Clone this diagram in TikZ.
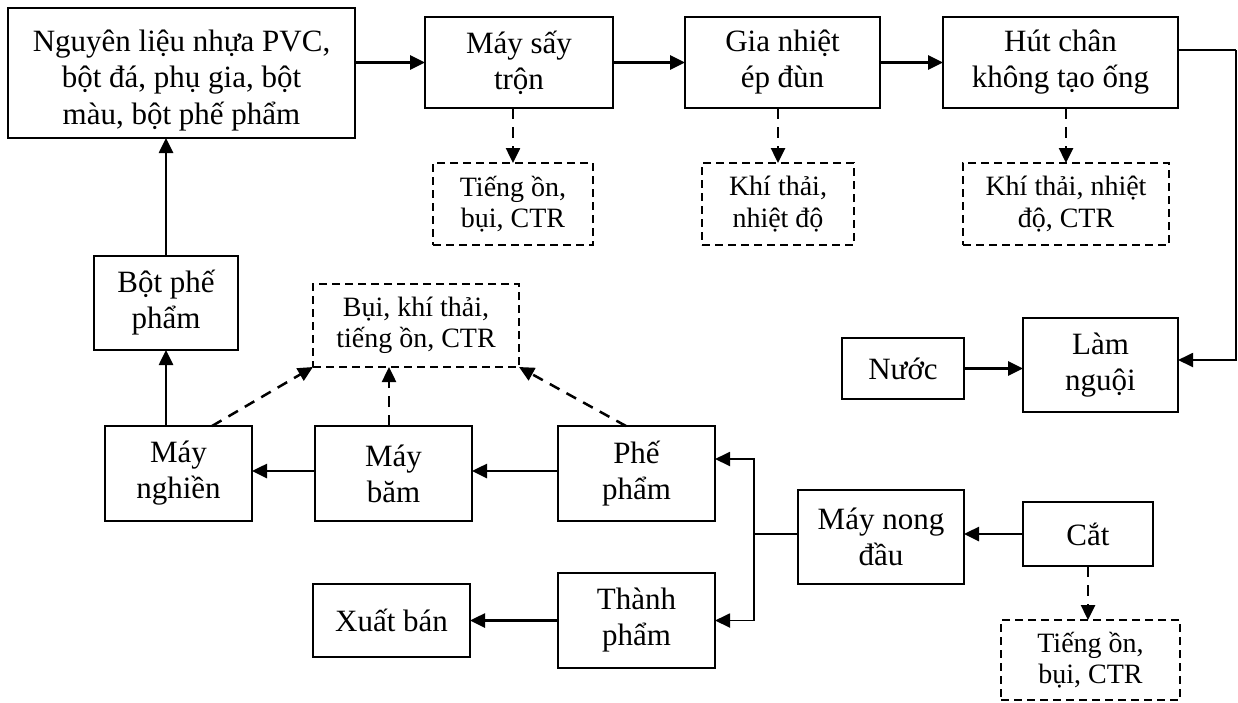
\documentclass[tikz,border=0pt]{standalone}
\usepackage{fontspec}
\setmainfont{Liberation Serif}
\usetikzlibrary{arrows.meta}

\tikzset{
  box/.style={draw, line width=1.6pt, inner sep=0pt, outer sep=0pt, align=center,
    font=\fontsize{31}{36}\selectfont},
  wastebox/.style={draw, line width=1.5pt, dash pattern=on 8pt off 5pt, inner sep=0pt,
    outer sep=0pt, align=center, font=\fontsize{28}{31.5}\selectfont},
  flow/.style={line width=2.6pt, -{Triangle[length=15pt,width=14pt]}},
  thinflow/.style={line width=1.9pt, -{Triangle[length=15pt,width=14pt]}},
  link/.style={line width=1.9pt},
  emit/.style={line width=2.5pt, dash pattern=on 11pt off 8pt,
    -{Triangle[length=15pt,width=14pt]}},
}
% taller first line pushes a block of text a little lower in its box
\newcommand{\lowerby}[1]{\rule{0pt}{#1}}

\begin{document}
\begin{tikzpicture}[x=1pt,y=-1pt]
\useasboundingbox (0,0) rectangle (1238,702);

% main production line
\node[box, minimum width=347pt, minimum height=130pt,
  font=\fontsize{31}{36.5}\selectfont] (nguyen) at (181.5,73)
  {\lowerby{36pt}Nguyên liệu nhựa PVC,\\bột đá, phụ gia, bột\\màu, bột phế phẩm};
\node[box, minimum width=188pt, minimum height=91pt] (say) at (519,62.5) {Máy sấy\\trộn};
\node[box, minimum width=195pt, minimum height=91pt] (gia) at (782.5,62.5) {Gia nhiệt\\ép đùn};
\node[box, minimum width=235pt, minimum height=91pt] (hut) at (1060.5,62.5) {Hút chân\\không tạo ống};

% emissions
\node[wastebox, minimum width=160pt, minimum height=82pt] (tsay) at (513,204) {Tiếng ồn,\\bụi, CTR};
\node[wastebox, minimum width=152pt, minimum height=82pt] (tgia) at (778,204) {Khí thải,\\nhiệt độ};
\node[wastebox, minimum width=206pt, minimum height=82pt] (thut) at (1066,204) {Khí thải, nhiệt\\độ, CTR};

% cooling
\node[box, minimum width=155pt, minimum height=94pt] (lam) at (1100.5,365) {Làm\\nguội};
\node[box, minimum width=122pt, minimum height=61pt] (nuoc) at (903,368.5) {Nước};

% recycling branch
\node[box, minimum width=144pt, minimum height=94pt] (bot) at (166,303) {Bột phế\\phẩm};
\node[wastebox, minimum width=206pt, minimum height=83pt] (bui) at (416,325.5) {Bụi, khí thải,\\tiếng ồn, CTR};
\node[box, minimum width=147pt, minimum height=95pt] (nghien) at (178.5,473.5) {Máy\\nghiền};
\node[box, minimum width=157pt, minimum height=95pt] (bam) at (393.5,473.5) {Máy\\băm};
\node[box, minimum width=157pt, minimum height=95pt] (phe) at (636.5,473.5) {Phế\\phẩm};
\node[box, minimum width=157pt, minimum height=95pt] (thanh) at (636.5,620.5) {Thành\\phẩm};
\node[box, minimum width=157pt, minimum height=73pt] (xuat) at (391.5,620.5) {Xuất bán};

% finishing
\node[box, minimum width=166pt, minimum height=94pt] (nong) at (881,537) {Máy nong\\đầu};
\node[box, minimum width=130pt, minimum height=64pt] (cat) at (1088,534) {Cắt};
\node[wastebox, minimum width=179pt, minimum height=80pt] (tcat) at (1090.5,660) {Tiếng ồn,\\bụi, CTR};

\coordinate (rt) at (1236,50);
\coordinate (fork) at (754,534);

% main flow
\draw[flow] (say.west -| nguyen.east) -- (say.west);
\draw[flow] (say.east) -- (gia.west);
\draw[flow] (gia.east) -- (hut.west);
\draw[link] ([yshift=12.5pt]hut.east) -- (rt);
\draw[thinflow] (rt) |- ([yshift=5pt]lam.east);
\draw[flow] (nuoc.east) -- (nuoc.east -| lam.west);

% emissions arrows
\draw[emit] (say.south -| tsay.north) -- (tsay.north);
\draw[emit] (gia.south -| tgia.north) -- (tgia.north);
\draw[emit] (hut.south -| thut.north) -- (thut.north);
\draw[emit] (cat.south) -- (cat.south |- tcat.north);

% finishing and sorting
\draw[flow] (cat.west) -- (cat.west -| nong.east);
\draw[link] (nong.west |- fork) -- (fork);
\draw[thinflow] (fork) |- ([yshift=14.5pt]phe.east);
\draw[thinflow] (fork) |- (thanh.east);
\draw[flow] (thanh.west) -- (xuat.east);

% recycling
\draw[flow] ([yshift=2.5pt]phe.west) -- ([yshift=2.5pt]bam.east);
\draw[flow] ([yshift=2.5pt]bam.west) -- ([yshift=2.5pt]nghien.east);
\draw[flow] (bot.south |- nghien.north) -- (bot.south);
\draw[flow] (bot.north) -- (bot.north |- nguyen.south);
\draw[emit] ([xshift=33.5pt]nghien.north) -- (bui.south west);
\draw[emit] ([xshift=-4.5pt]bam.north) -- ([xshift=-4.5pt]bam.north |- bui.south);
\draw[emit] ([xshift=-10.5pt]phe.north) -- (bui.south east);
\end{tikzpicture}
\end{document}
